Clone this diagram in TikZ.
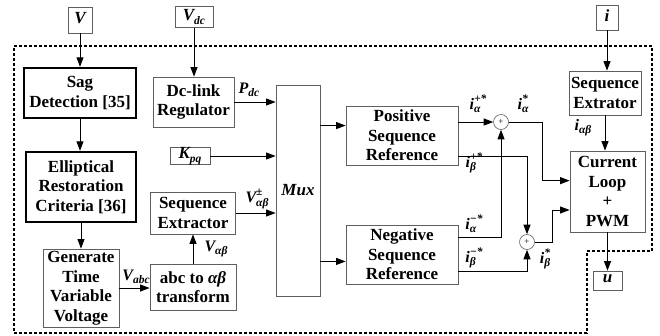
\documentclass[tikz,border=0pt]{standalone}
\usepackage{fontspec}
\setmainfont{Liberation Serif}
\usetikzlibrary{arrows.meta}
\definecolor{boxGray}{RGB}{95,95,95}
\newcommand{\subsup}[2]{{\setbox0\hbox{\fontsize{11.5}{11.5}\selectfont #1}\setbox2\hbox{\fontsize{11.5}{11.5}\selectfont #2}\ifdim\wd0>\wd2 \rlap{\raise0.95ex\box2}\lower0.45ex\box0 \else \rlap{\lower0.45ex\box0}\raise0.95ex\box2 \fi}}
\newcommand{\sig}[3]{{\bfseries\itshape #1\subsup{#2}{#3}}}
\tikzstyle{plainBox}=[draw = boxGray, line width = 0.8pt, inner sep = 0pt, align = center, font = \fontsize{17}{19.5}\selectfont\bfseries]
\tikzstyle{heavyBox}=[plainBox, draw = black, line width = 2.4pt]

\begin{document}
\begin{tikzpicture}[x = 1pt, y = -1pt]
\tikzstyle{sigBox}=[draw = boxGray, line width = 0.8pt, inner sep = 0pt, font = \fontsize{17}{17}\selectfont]
\tikzstyle{sumStyle}=[shape = circle, draw = boxGray, line width = 0.6pt, minimum size = 15pt, inner sep = 0pt, font = \fontsize{9}{9}\selectfont]
\tikzstyle{sigLabel}=[inner sep = 0pt, font = \fontsize{16}{16}\selectfont]
\tikzstyle{EdgeArrow}=[-{Triangle[length = 9.5pt, width = 7pt]}, line width = 0.9pt]
\tikzstyle{borderDash}=[line width = 1.4pt, dash pattern = on 3pt off 2pt]
\useasboundingbox (0,0) rectangle (660,335);
\draw[borderDash] (14,46) -- (652,46) -- (652,251) -- (587,251) -- (587,333) -- (14,333) -- cycle;
\node[sigBox, minimum width = 24, minimum height = 26] (vIn) at (80,20) {\sig{V}{}{}};
\node[sigBox, minimum width = 38, minimum height = 21] (vdc) at (194,17) {\sig{V}{dc}{}};
\node[sigBox, minimum width = 22, minimum height = 25] (iIn) at (607,17.5) {\sig{i}{}{}};
\node[sigBox, minimum width = 29, minimum height = 19] (uOut) at (607.5,280.5) {\sig{u}{}{}};
\node[sigBox, minimum width = 40, minimum height = 17] (kpq) at (190,156) {\sig{K}{pq}{}};
\node[heavyBox, minimum width = 112, minimum height = 50] (sag) at (80,93) {Sag\\Detection [35]};
\node[heavyBox, minimum width = 110, minimum height = 70] (ellip) at (81,187) {Elliptical\\Restoration\\Criteria [36]};
\node[plainBox, minimum width = 76, minimum height = 78] (gen) at (81,288) {Generate\\Time\\Variable\\Voltage};
\node[plainBox, minimum width = 86, minimum height = 46] (abc) at (193,287) {abc to \textit{αβ}\\transform};
\node[plainBox, minimum width = 85, minimum height = 42] (seqExt) at (193,213) {Sequence\\Extractor};
\node[plainBox, minimum width = 81, minimum height = 50] (dcLink) at (193.5,102) {Dc-link\\Regulator};
\node[plainBox, minimum width = 44, minimum height = 211, font = \fontsize{17}{19.5}\selectfont\bfseries\itshape] (mux) at (298,190.5) {Mux};
\node[plainBox, minimum width = 112, minimum height = 59] (posRef) at (402,135.5) {Positive\\Sequence\\Reference};
\node[plainBox, minimum width = 112, minimum height = 59] (negRef) at (402,254.5) {Negative\\Sequence\\Reference};
\node[sumStyle] (sumA) at (501,122) {+};
\node[sumStyle] (sumB) at (527,242) {+};
\node[plainBox, minimum width = 72, minimum height = 44] (seqExtI) at (605,93) {Sequence\\Extrator};
\node[plainBox, minimum width = 75, minimum height = 81] (curLoop) at (607.5,191.5) {Current\\Loop\\+\\PWM};
\draw[EdgeArrow] (vIn.south) -- (vIn.south |- sag.north);
\draw[EdgeArrow] (sag.south) -- (sag.south |- ellip.north);
\draw[EdgeArrow] (ellip.south) -- (ellip.south |- gen.north);
\draw[EdgeArrow] (gen.east) -- (gen.east -| abc.west);
\draw[EdgeArrow] (abc.north) -- (abc.north |- seqExt.south);
\draw[EdgeArrow] (vdc.south) -- (vdc.south |- dcLink.north);
\draw[EdgeArrow] (dcLink.east) -- (dcLink.east -| mux.west);
\draw[EdgeArrow] (kpq.east) -- (kpq.east -| mux.west);
\draw[EdgeArrow] (seqExt.east) -- (seqExt.east -| mux.west);
\draw[EdgeArrow] (mux.east |- posRef.170) -- (posRef.170);
\draw[EdgeArrow] (mux.east |- negRef.187) -- (negRef.187);
\draw[EdgeArrow] (posRef.east |- sumA.west) -- (sumA.west);
\draw[EdgeArrow] (posRef.340) -| (sumB.north);
\draw[EdgeArrow] (negRef.17) -| (sumA.south);
\draw[EdgeArrow] (negRef.-17) -| (sumB.south);
\draw[EdgeArrow] (sumA.east) -| ([xshift = -27]curLoop.164) -- (curLoop.164);
\draw[EdgeArrow] (sumB.east) -| ([xshift = -17]curLoop.206) -- (curLoop.206);
\draw[EdgeArrow] (iIn.south) -- (iIn.south |- seqExtI.north);
\draw[EdgeArrow] (seqExtI.south) -- (seqExtI.south |- curLoop.north);
\draw[EdgeArrow] (curLoop.south) -- (curLoop.south |- uOut.north);
\node[sigLabel] (lPdc) at (249,90) {\sig{P}{dc}{}};
\node[sigLabel] (lVpm) at (257,199) {\sig{V}{αβ}{±}};
\node[sigLabel] (lVabc) at (136,277) {\sig{V}{abc}{}};
\node[sigLabel] (lVab) at (216,249) {\sig{V}{αβ}{}};
\node[sigLabel] (liab) at (583,128) {\sig{i}{αβ}{}};
\node[sigLabel] (lApos) at (478,104) {\sig{i}{α}{+*}};
\node[sigLabel] (lA) at (523,104) {\sig{i}{α}{*}};
\node[sigLabel] (lBpos) at (474,163) {\sig{i}{β}{+*}};
\node[sigLabel] (lAneg) at (474,224) {\sig{i}{α}{−*}};
\node[sigLabel] (lBneg) at (474,258) {\sig{i}{β}{−*}};
\node[sigLabel] (lB) at (545,259) {\sig{i}{β}{*}};
\end{tikzpicture}
\end{document}
